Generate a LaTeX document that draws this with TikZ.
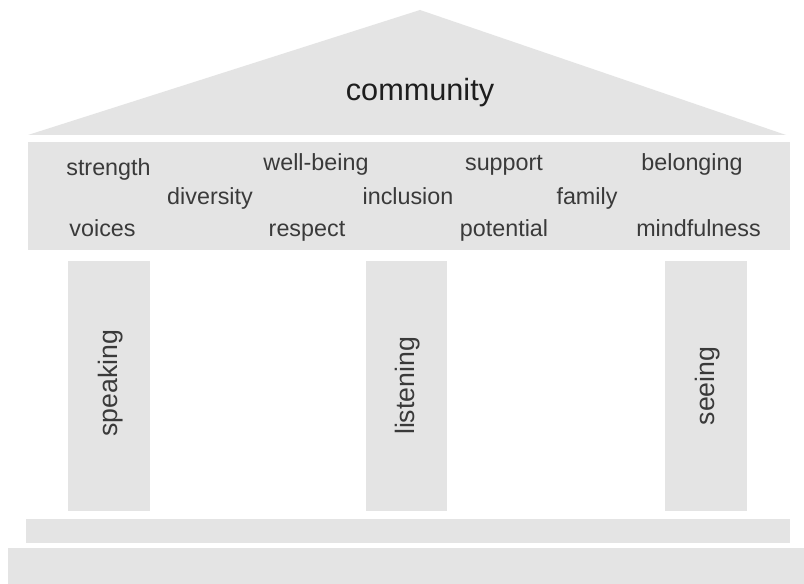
\documentclass[tikz,border=0pt]{standalone}
\usepackage{fontspec}
\setmainfont{Liberation Sans}
\definecolor{stone}{RGB}{228,228,228}
\definecolor{wordc}{RGB}{58,58,58}
\definecolor{titlec}{RGB}{30,30,30}
\begin{document}
\begin{tikzpicture}[x=0.75pt,y=-0.75pt,
  part/.style={fill=stone,draw=none},
  word/.style={inner sep=0pt,anchor=base,text=wordc,font=\fontsize{17.5}{20}\selectfont},
  pillar/.style={inner sep=0pt,rotate=90,text=wordc,font=\fontsize{20}{24}\selectfont},
  title/.style={inner sep=0pt,anchor=base,text=titlec,font=\fontsize{23}{27}\selectfont}]
\useasboundingbox (0,0) rectangle (804,584);
\fill[white] (0,0) rectangle (804,584);
% roof
\fill[part] (28,135) -- (420,10) -- (786,135) -- cycle;
% entablature
\fill[part] (28,142) rectangle (790,250);
% columns
\fill[part] (68,261) rectangle (150,511);
\fill[part] (366,261) rectangle (447,511);
\fill[part] (665,261) rectangle (747,511);
% steps
\fill[part] (26,519) rectangle (790,543);
\fill[part] (8,548) rectangle (804,584);
% texts
\node[title] (community) at (420,101) {community};
\node[word] (strength) at (108.5,176) {strength};
\node[word] (wellbeing) at (316,171) {well-being};
\node[word] (support) at (504,171) {support};
\node[word] (belonging) at (692,171) {belonging};
\node[word] (diversity) at (210,205) {diversity};
\node[word] (inclusion) at (408,205) {inclusion};
\node[word] (family) at (587,205) {family};
\node[word] (voices) at (102.5,237) {voices};
\node[word] (respect) at (307,237) {respect};
\node[word] (potential) at (504,237) {potential};
\node[word] (mindfulness) at (698.5,237) {mindfulness};
\node[pillar] (speaking) at (111,383) {speaking};
\node[pillar] (listening) at (408,386) {listening};
\node[pillar] (seeing) at (708,386) {seeing};
\end{tikzpicture}
\end{document}
